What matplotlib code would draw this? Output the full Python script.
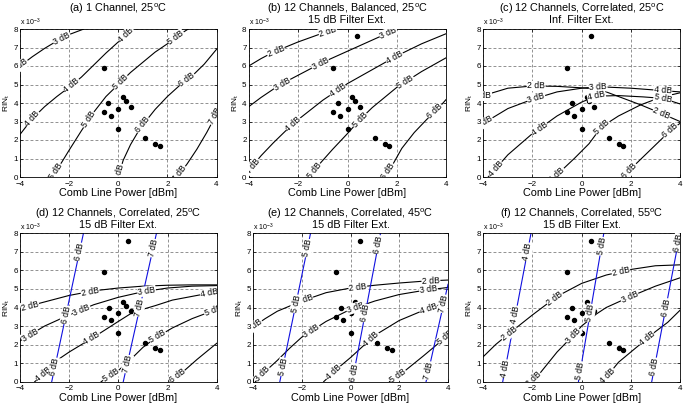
import numpy as np
import matplotlib
matplotlib.use("Agg")
import matplotlib.pyplot as plt

plt.rcParams["font.family"] = "Liberation Sans"
plt.rcParams["mathtext.fontset"] = "custom"
plt.rcParams["mathtext.rm"] = "Liberation Sans"
plt.rcParams["mathtext.it"] = "Liberation Sans:italic"

# measured points (RIN_t in units of 1e-3)
dot_x = [-0.6, -0.6, -0.4, -0.3, 0.0, 0.0, 0.2, 0.3, 0.5, 1.1, 1.5, 1.7, 0.4]
dot_y = [5.9, 3.5, 4.0, 3.3, 3.7, 2.6, 4.3, 4.1, 3.8, 2.1, 1.8, 1.7, 7.6]

titles = [
    ("(a) 1 Channel, 25$^{\\rm o}$C", ""),
    ("(b) 12 Channels, Balanced, 25$^{\\rm o}$C", "15 dB Filter Ext."),
    ("(c) 12 Channels, Correlated, 25$^{\\rm o}$C", "Inf. Filter Ext."),
    ("(d) 12 Channels, Correlated, 25$^{\\rm o}$C", "15 dB Filter Ext."),
    ("(e) 12 Channels, Correlated, 45$^{\\rm o}$C", "15 dB Filter Ext."),
    ("(f) 12 Channels, Correlated, 55$^{\\rm o}$C", "15 dB Filter Ext."),
]

# contour lines, (power dBm, RIN_t e-3)
a_3dB = [(-4, 6.0), (-3.5, 6.5), (-3, 6.95), (-2.5, 7.35), (-2, 7.7), (-1.4, 8.0)]
a_4dB = [(-4, 2.3), (-3.5, 3.15), (-3, 3.8), (-2.5, 4.35), (-2, 4.85), (-1.5, 5.4),
         (-1, 6.05), (-0.5, 6.7), (0, 7.3), (0.55, 8.0)]
a_5dB = [(-2.7, 0), (-2.3, 0.8), (-2, 1.45), (-1.5, 2.5), (-1, 3.5), (-0.5, 4.35), (0, 5.0),
         (0.5, 5.65), (1, 6.2), (1.5, 6.75), (2, 7.2), (2.5, 7.7), (2.85, 8.0)]
a_6dB = [(0, 0), (0.2, 0.9), (0.5, 1.75), (0.9, 2.65), (1.5, 3.65), (2, 4.35), (2.5, 4.95),
         (3, 5.45), (3.5, 6.1), (4, 6.9)]
a_7dB = [(2.4, 0), (2.8, 0.7), (3.2, 1.5), (3.6, 2.4), (4, 3.4)]

b_2dB = [(-4, 6.0), (-3.5, 6.4), (-3, 6.75), (-2, 7.3), (-1, 7.78), (-0.5, 8.0)]
b_3dB = [(-4, 3.8), (-3.5, 4.3), (-3, 4.75), (-2.5, 5.15), (-2, 5.5), (-1, 6.2), (0, 6.8),
         (1, 7.4), (2, 8.0)]
b_4dB = [(-4, 0.35), (-3.5, 1.15), (-3, 1.85), (-2.5, 2.5), (-2, 3.1), (-1, 4.15), (0, 5.05),
         (1, 5.8), (2, 6.55), (3, 7.2), (4, 7.75)]
b_5dB = [(-1.55, 0), (-1.2, 0.6), (-0.6, 1.5), (0, 2.35), (0.5, 3.1), (1, 3.75), (1.5, 4.3),
         (2, 4.85), (3, 5.7), (4, 6.45)]
b_6dB = [(1.5, 0), (1.8, 0.6), (2.2, 1.55), (2.7, 2.4), (3.2, 3.1), (3.6, 3.6), (4, 4.2)]

c_2dB = [(-4, 4.4), (-3, 4.8), (-2, 4.92), (-1, 4.9), (0, 4.82), (0.7, 4.75), (1.5, 4.35),
         (2.4, 3.9), (3.25, 3.43), (4, 3.0)]
c_3dB = [(-4, 2.9), (-3, 3.7), (-2, 4.2), (-1, 4.6), (0, 4.8), (0.7, 4.88), (2, 4.8),
         (3, 4.7), (4, 4.6)]
c_4dB = [(-3.8, 0), (-3, 1.2), (-2, 2.35), (-1, 3.3), (0, 4.05), (0.6, 4.37), (1.5, 4.4),
         (2.5, 4.33), (3.3, 4.25), (4, 3.95)]
c_5dB = [(-1.1, 0), (-0.3, 1.0), (0.3, 1.8), (0.8, 2.7), (1.5, 3.3), (2.4, 3.9), (3.2, 4.3),
         (4, 4.55)]
c_6dB = [(1.7, 0), (2.2, 0.7), (2.9, 1.6), (3.6, 2.5), (4, 2.9)]

d_2dB = [(-4, 3.95), (-3, 4.3), (-2, 4.65), (-1, 4.9), (0, 5.05), (1, 5.15), (2, 5.2),
         (3, 5.22), (4, 5.22)]
d_3dB = [(-4, 2.2), (-3, 3.0), (-2, 3.6), (-1, 4.15), (0, 4.55), (1, 4.85), (2, 5.05),
         (3, 5.15), (4, 5.18)]
d_4dB = [(-3.4, 0), (-3, 0.45), (-2.5, 1.15), (-2, 1.6), (-1, 2.4), (0, 3.25), (0.6, 3.75),
         (1.5, 4.1), (2.2, 4.4), (3, 4.6), (4, 4.85)]
d_5dB = [(-0.7, 0), (0, 0.6), (0.5, 1.2), (1, 1.85), (1.5, 2.35), (2.2, 2.9), (3, 3.4),
         (4, 3.9)]
d_6dB = [(2.1, 0), (2.6, 0.5), (3.2, 1.2), (4, 2.07)]
d_6dB_blue = [(-2.71, 0), (-1.42, 8)]
d_7dB_blue = [(0.2, 0), (1.55, 8)]

e_2dB = [(-4, 2.95), (-3.5, 3.4), (-3, 3.8), (-2, 4.35), (-1, 4.8), (0, 5.05), (1, 5.2),
         (2, 5.32), (3, 5.42), (4, 5.48)]
e_3dB = [(-3.9, 0), (-3.5, 0.55), (-3, 1.15), (-2.5, 1.8), (-2, 2.4), (-1, 3.25), (0, 3.9),
         (1, 4.35), (2, 4.7), (3, 4.92), (4, 5.08)]
e_4dB = [(-1.1, 0), (-0.5, 0.75), (0, 1.3), (0.5, 1.9), (1, 2.5), (2, 3.3), (3, 3.85), (4, 4.3)]
e_5dB = [(1.6, 0), (2.2, 0.55), (3, 1.4), (4, 2.5)]
e_5dB_blue = [(-2.9, 0), (-1.64, 8)]
e_6dB_blue = [(0.07, 0), (1.23, 8)]
e_7dB_blue = [(3.1, 0), (4, 5.25)]

f_2dB = [(-4, 1.35), (-3.5, 2.0), (-3, 2.55), (-2, 3.6), (-1, 4.6), (0, 5.3), (1, 5.75),
         (2, 6.05), (3, 6.25), (4, 6.3)]
f_3dB = [(-2.05, 0), (-1.7, 0.45), (-1, 1.6), (-0.34, 2.5), (0, 3.0), (0.6, 3.65), (1, 4.0),
         (2, 4.6), (3, 5.15), (4, 5.6)]
f_4dB = [(0.8, 0), (1.1, 0.4), (1.5, 1.05), (2, 1.6), (2.5, 2.15), (3, 2.7), (3.5, 3.2),
         (4, 3.85)]
f_4dB_blue = [(-3.21, 0), (-2.06, 8)]
f_5dB_blue = [(-0.13, 0), (0.9, 8)]
f_6dB_blue = [(2.85, 0), (4.0, 8)]

W, H = 685, 407
fig = plt.figure(figsize=(W / 100, H / 100), dpi=100)


def make_axes(l, r, t, b):
    ax = fig.add_axes([l / W, 1 - b / H, (r - l) / W, (b - t) / H])
    ax.set_xlim(-4, 4)
    ax.set_ylim(0, 8)
    ax.set_xticks([-4, -2, 0, 2, 4])
    ax.set_yticks(range(9))
    ax.set_axisbelow(True)
    ax.grid(True, color="#808080", lw=0.6, ls=(0, (3.5, 2.5)))
    ax.tick_params(direction="in", length=2, width=0.5, labelsize=5.8, pad=1.5,
                   top=True, right=True)
    ax.tick_params(axis="x", pad=2.6)
    for s in ax.spines.values():
        s.set_linewidth(0.6)
    ax.set_xlabel("Comb Line Power [dBm]", fontsize=7.8, labelpad=0.5)
    ax.set_ylabel(r"RIN$_{\rm t}$", fontsize=6, labelpad=1)
    ax.text(0.0, 1.005, r"x 10$^{-3}$", transform=ax.transAxes, fontsize=5,
            va="bottom", ha="left")
    return ax


def curve(ax, pts, labels, color="black", vertical=False):
    xs = np.array([p[0] for p in pts], float)
    ys = np.array([p[1] for p in pts], float)
    ax.plot(xs, ys, color=color, lw=0.8, zorder=2)
    if vertical:
        t, u = ys, xs
    else:
        t, u = xs, ys
    for pos, txt in labels:
        t0 = max(pos - 0.05, t[0])
        t1 = min(pos + 0.05, t[-1])
        if vertical:
            p = [(np.interp(t0, t, u), t0), (np.interp(t1, t, u), t1)]
            xy = (np.interp(pos, t, u), pos)
        else:
            p = [(t0, np.interp(t0, t, u)), (t1, np.interp(t1, t, u))]
            xy = (pos, np.interp(pos, t, u))
        d = ax.transData.transform(p)
        ang = np.degrees(np.arctan2(d[1, 1] - d[0, 1], d[1, 0] - d[0, 0]))
        if ang > 90:
            ang -= 180
        if ang < -90:
            ang += 180
        ax.text(xy[0], xy[1], txt, rotation=ang, rotation_mode="anchor",
                ha="center", va="center", fontsize=6.2, zorder=3, clip_on=True,
                bbox=dict(boxstyle="square,pad=0.06", fc="white", ec="none"))


boxes = [(20, 216.5, 29, 177), (248.7, 446.3, 29, 177), (483.3, 680, 29, 177),
         (20, 216.7, 233.3, 381.7), (253, 448, 233.3, 381.7), (483.3, 680, 233.3, 381.7)]
axs = [make_axes(*b) for b in boxes]

for i, (ax, b) in enumerate(zip(axs, boxes)):
    cx = (b[0] + b[1]) / 2
    top = 9 if i < 3 else 214
    fig.text(cx / W, 1 - top / H, titles[i][0], ha="center", va="center", fontsize=7.8)
    if titles[i][1]:
        fig.text(cx / W, 1 - (top + 11) / H, titles[i][1], ha="center", va="center",
                 fontsize=7.8)
    n = 12 if i == 0 else 13
    ax.plot(dot_x[:n], dot_y[:n], "o", color="black", ms=2.9, zorder=2.5)

# (a)
ax = axs[0]
curve(ax, a_3dB, [(-4.0, "3 dB"), (-2.3, "3 dB")])
curve(ax, a_4dB, [(-3.5, "4 dB"), (-1.9, "4 dB"), (0.3, "4 dB")])
curve(ax, a_5dB, [(-2.55, "5 dB"), (-1.2, "5 dB"), (0.1, "5 dB"), (2.35, "5 dB")])
curve(ax, a_6dB, [(0.05, "6 dB"), (1.0, "6 dB"), (2.8, "6 dB")])
curve(ax, a_7dB, [(2.5, "7 dB"), (3.95, "7 dB")])

# (b)
ax = axs[1]
curve(ax, b_2dB, [(-2.9, "2 dB"), (-0.8, "2 dB")])
curve(ax, b_3dB, [(-2.65, "3 dB"), (-1.1, "3 dB"), (1.65, "3 dB")])
curve(ax, b_4dB, [(-3.85, "4 dB"), (-2.2, "4 dB"), (-0.4, "4 dB"), (1.9, "4 dB")])
curve(ax, b_5dB, [(-1.35, "5 dB"), (0.5, "5 dB"), (2.35, "5 dB")])
curve(ax, b_6dB, [(1.65, "6 dB"), (3.55, "6 dB")])

# (c)
ax = axs[2]
curve(ax, c_2dB, [(-4.05, "2 dB"), (-1.85, "2 dB"), (3.25, "2 dB")])
curve(ax, c_3dB, [(-3.95, "3 dB"), (-1.85, "3 dB"), (0.67, "3 dB"), (3.3, "4 dB")])
curve(ax, c_4dB, [(-3.5, "4 dB"), (-1.72, "4 dB"), (0.6, "4 dB"), (3.3, "5 dB")])
curve(ax, c_5dB, [(-1.0, "5 dB"), (0.81, "5 dB")])
curve(ax, c_6dB, [(1.95, "6 dB"), (3.6, "6 dB")])

# (d)
ax = axs[3]
curve(ax, d_2dB, [(-3.6, "2 dB"), (-1.15, "2 dB")])
curve(ax, d_3dB, [(-3.6, "3 dB"), (-1.5, "3 dB"), (1.15, "3 dB")])
curve(ax, d_4dB, [(-3.05, "4 dB"), (-1.08, "4 dB"), (3.7, "4 dB")])
curve(ax, d_5dB, [(-0.3, "5 dB"), (1.6, "5 dB"), (3.85, "5 dB")])
curve(ax, d_6dB, [(2.4, "6 dB")])
curve(ax, d_6dB_blue, [(0.8, "6 dB"), (3.6, "6 dB"), (7.0, "6 dB")], "#1010e0", True)
curve(ax, d_7dB_blue, [(0.95, "7 dB"), (4.0, "7 dB"), (7.2, "7 dB")], "#1010e0", True)

# (e)
ax = axs[4]
curve(ax, e_2dB, [(-3.95, "2 dB"), (-1.9, "2 dB"), (0.3, "2 dB"), (3.3, "2 dB")])
curve(ax, e_3dB, [(-3.6, "3 dB"), (-1.6, "3 dB"), (0.2, "3 dB"), (3.2, "3 dB")])
curve(ax, e_4dB, [(-0.7, "4 dB"), (0.85, "4 dB"), (3.2, "4 dB")])
curve(ax, e_5dB, [(1.95, "5 dB"), (3.9, "5 dB")])
curve(ax, e_5dB_blue, [(0.8, "5 dB"), (4.2, "5 dB"), (7.2, "5 dB")], "#1010e0", True)
curve(ax, e_6dB_blue, [(0.5, "6 dB"), (3.7, "6 dB"), (7.4, "6 dB")], "#1010e0", True)
curve(ax, e_7dB_blue, [(0.6, "7 dB"), (4.2, "7 dB")], "#1010e0", True)

# (f)
ax = axs[5]
curve(ax, f_2dB, [(-2.95, "2 dB"), (-1.1, "2 dB"), (1.6, "2 dB")])
curve(ax, f_3dB, [(-1.95, "3 dB"), (-0.35, "3 dB"), (1.95, "3 dB")])
curve(ax, f_4dB, [(1.05, "4 dB"), (2.65, "4 dB")])
curve(ax, f_4dB_blue, [(0.7, "4 dB"), (3.6, "4 dB"), (7.0, "4 dB")], "#1010e0", True)
curve(ax, f_5dB_blue, [(0.6, "5 dB"), (3.7, "5 dB"), (7.3, "5 dB")], "#1010e0", True)
curve(ax, f_6dB_blue, [(0.8, "6 dB"), (4.0, "6 dB"), (7.5, "6 dB")], "#1010e0", True)

fig.savefig("out.png", dpi=100)
